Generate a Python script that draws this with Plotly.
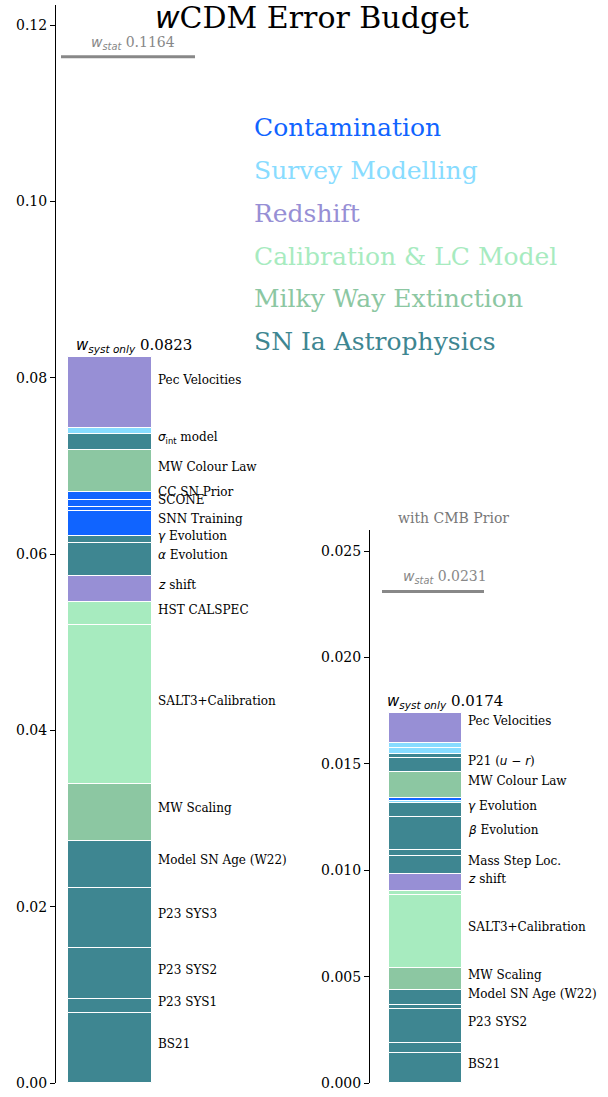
import numpy as np
import plotly.graph_objects as go

# ---------------- data ----------------
GROUPS = ["Contamination", "Survey Modelling", "Redshift",
          "Calibration & LC Model", "Milky Way Extinction", "SN Ia Astrophysics"]
GROUP_COLORS = ["#1064ff", "#88dcff", "#978fd5", "#a7ebbf", "#8cc7a2", "#3e8691"]

IT = '<span style="font-family:\'DejaVu Sans\'"><i>{}</i></span>'

# left panel (no CMB prior), bottom -> top
left_labels = ["BS21", "P23 SYS1", "P23 SYS2", "P23 SYS3", "Model SN Age (W22)",
               "MW Scaling", "SALT3+Calibration", "HST CALSPEC",
               IT.format("z") + " shift", IT.format("α") + " Evolution",
               IT.format("γ") + " Evolution", "SNN Training", "", "SCONE", "CC SN Prior",
               "MW Colour Law", IT.format("σ") + '<sub><span style="font-family:\'DejaVu Sans\'">int</span></sub> model',
               "", "Pec Velocities"]
left_groups = [5, 5, 5, 5, 5, 4, 3, 3, 2, 5, 5, 0, 0, 0, 0, 4, 5, 1, 2]
left_values = [0.0079, 0.00159, 0.00586, 0.0068, 0.00533, 0.00643, 0.01804, 0.00257,
               0.00301, 0.00374, 0.00075, 0.0029, 0.00036, 0.00087, 0.00086, 0.00473,
               0.0019, 0.00062, 0.00804]
left_total = 0.0823
left_stat = 0.1164

# right panel (with CMB prior), bottom -> top
right_labels = ["BS21", "", "P23 SYS2", "", "Model SN Age (W22)", "MW Scaling",
                "SALT3+Calibration", "", IT.format("z") + " shift", "Mass Step Loc.", "",
                IT.format("β") + " Evolution", IT.format("γ") + " Evolution", "", "",
                "MW Colour Law", "P21 (" + IT.format("u") + " − " + IT.format("r") + ")",
                "", "", "", "Pec Velocities"]
right_groups = [5, 5, 5, 5, 5, 4, 3, 3, 2, 5, 5, 5, 5, 1, 0, 4, 5, 5, 1, 1, 2]
right_values = [0.00142, 0.00046, 0.0016, 0.00018, 0.00071, 0.00104, 0.00342, 0.00018,
                0.0008, 0.00085, 0.00027, 0.00155, 0.0007, 0.00006, 0.00016, 0.0012,
                0.00068, 0.00019, 0.00026, 0.00026, 0.0014]
right_total = 0.0174
right_stat = 0.0231

left_ticks = [0.00, 0.02, 0.04, 0.06, 0.08, 0.10, 0.12]
right_ticks = [0.000, 0.005, 0.010, 0.015, 0.020, 0.025]

# ---------------- layout constants ----------------
W, H = 608, 1097
SERIF = "DejaVu Serif"
def py(p):  # pixel row -> paper y
    return (H - p) / H
def px(p):
    return p / W

fig = go.Figure()

def add_stack(values, groups, labels, xa, ya, xc, width, lab_x, offsets):
    v = np.array(values)
    base = np.concatenate([[0], np.cumsum(v)[:-1]])
    fig.add_trace(go.Bar(
        x=[xc] * len(v), y=v, base=base, width=width,
        marker=dict(color=[GROUP_COLORS[g] for g in groups],
                    line=dict(color="white", width=1)),
        xaxis=xa, yaxis=ya, showlegend=False, hoverinfo="skip"))
    for i, lab in enumerate(labels):
        if not lab:
            continue
        fig.add_annotation(x=lab_x, y=base[i] + v[i] / 2, xref=xa, yref=ya,
                           text=lab, showarrow=False, xanchor="left", yanchor="middle",
                           yshift=4 + offsets.get(i, 0),
                           font=dict(family=SERIF, size=12, color="black"))
    return base

add_stack(left_values, left_groups, left_labels, "x", "y", 54, 84, 100,
          {len(left_values) - 1: 9})
add_stack(right_values, right_groups, right_labels, "x2", "y2", 55.5, 73, 96,
          {len(right_values) - 1: 3})

# stat lines
fig.add_shape(type="line", xref="x", yref="y", x0=5, x1=139, y0=left_stat, y1=left_stat,
              line=dict(color="#888888", width=3))
fig.add_shape(type="line", xref="x2", yref="y2", x0=12, x1=114, y0=right_stat, y1=right_stat,
              line=dict(color="#888888", width=3))

WSUB = ('<span style="font-family:\'DejaVu Sans\'"><i>w</i></span>'
        '<sub><span style="font-family:\'DejaVu Sans\'"><i>{}</i></span></sub> {}')

fig.add_annotation(x=76.5, y=left_stat, xref="x", yref="y", xanchor="center", yanchor="bottom",
                   yshift=3, text=WSUB.format("stat", f"{left_stat:.4f}"), showarrow=False,
                   font=dict(family=SERIF, size=14, color="#888888"))
fig.add_annotation(x=75, y=right_stat, xref="x2", yref="y2", xanchor="center", yanchor="bottom",
                   yshift=3, text=WSUB.format("stat", f"{right_stat:.4f}"), showarrow=False,
                   font=dict(family=SERIF, size=14, color="#888888"))
fig.add_annotation(x=78, y=left_total, xref="x", yref="y", xanchor="center", yanchor="bottom",
                   yshift=0, text=WSUB.format("syst only", f"{left_total:.4f}"), showarrow=False,
                   font=dict(family=SERIF, size=15, color="black"))
fig.add_annotation(x=75, y=right_total, xref="x2", yref="y2", xanchor="center", yanchor="bottom",
                   yshift=0, text=WSUB.format("syst only", f"{right_total:.4f}"), showarrow=False,
                   font=dict(family=SERIF, size=15, color="black"))

# title and subtitle
fig.add_annotation(x=px(312), y=py(18), xref="paper", yref="paper", showarrow=False,
                   xanchor="center", yanchor="middle",
                   text='<span style="font-family:\'DejaVu Sans\'"><i>w</i></span>CDM Error Budget',
                   font=dict(family=SERIF, size=30, color="black"))
fig.add_annotation(x=px(453), y=py(518), xref="paper", yref="paper", showarrow=False,
                   xanchor="center", yanchor="middle",
                   text="with CMB Prior", font=dict(family=SERIF, size=14, color="#777777"))

# group legend
for i, (g, c) in enumerate(zip(GROUPS, GROUP_COLORS)):
    fig.add_annotation(x=px(252), y=py(127 + 43 * i), xref="paper", yref="paper",
                       showarrow=False, xanchor="left", yanchor="middle", text=g,
                       font=dict(family=SERIF, size=25, color=c))

axis_common = dict(showgrid=False, zeroline=False, showline=True, linecolor="black",
                   linewidth=1, ticks="outside", ticklen=5, tickcolor="black",
                   ticklabeloverflow="allow", automargin=False,
                   tickfont=dict(family=SERIF, size=14, color="black"))

fig.update_layout(
    width=W, height=H, margin=dict(l=0, r=0, t=0, b=0, autoexpand=False),
    paper_bgcolor="white", plot_bgcolor="white", barmode="overlay", bargap=0,
    xaxis=dict(domain=[px(56), px(356)], range=[0, 300], visible=False, automargin=False),
    yaxis=dict(domain=[py(1083), py(5)], range=[0, 0.12 + 20 / 8817],
               tickvals=left_ticks, ticktext=[f"{t:.2f}" for t in left_ticks], **axis_common),
    xaxis2=dict(domain=[px(370), px(600)], range=[0, 230], visible=False, anchor="y2",
                automargin=False),
    yaxis2=dict(domain=[py(1083), py(530)], range=[0, 553 / 21280], anchor="x2",
                tickvals=right_ticks, ticktext=[f"{t:.3f}" for t in right_ticks], **axis_common),
)

fig.write_html("out.html", config={"responsive": False, "displayModeBar": False},
               post_script="document.body.style.margin='0';document.body.style.overflow='hidden';")
